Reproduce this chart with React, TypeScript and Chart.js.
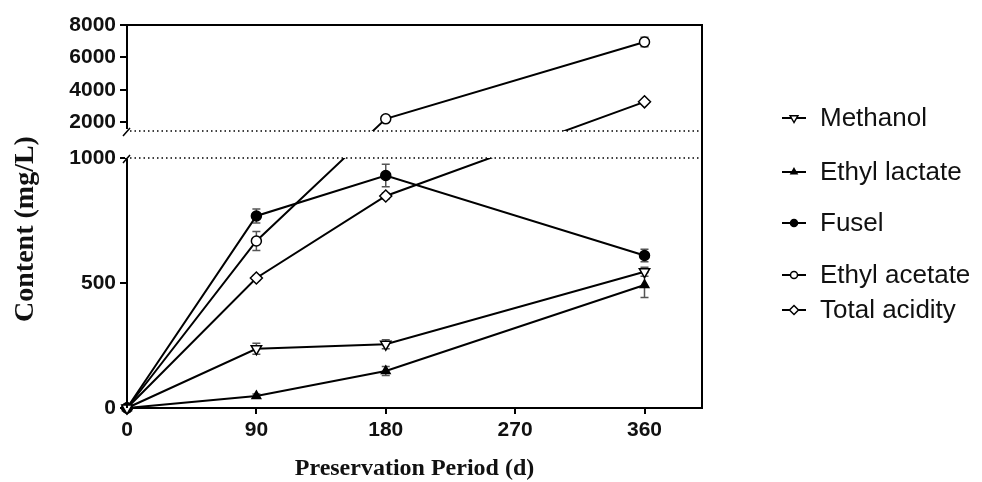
import React, { useEffect, useRef } from 'react';
import { Chart, registerables } from 'chart.js';

Chart.register(...registerables);

// ---- data ----
const days = [0, 90, 180, 360];
const seriesNames = ['Methanol', 'Ethyl lactate', 'Fusel', 'Ethyl acetate', 'Total acidity'];
const methanol = [0, 237, 255, 545];
const methanolErr = [0, 22, 18, 18];
const ethylLactate = [0, 48, 148, 492];
const ethylLactateErr = [0, 8, 18, 50];
const fusel = [0, 768, 930, 610];
const fuselErr = [0, 28, 45, 25];
const ethylAcetate = [0, 668, 2200, 6950];
const ethylAcetateErr = [0, 38, 150, 300];
const totalAcidity = [0, 520, 848, 3250];
const totalAcidityErr = [0, 10, 12, 60];
const xTicks = [0, 90, 180, 270, 360];
const yTicks = [0, 500, 1000, 2000, 4000, 6000, 8000];
const yTickLabels = ['0', '500', '1000', '2000', '4000', '6000', '8000'];
const xTitle = 'Preservation Period (d)';
const yTitle = 'Content (mg/L)';

// ---- broken axis mapping ----
const LOWER_MAX = 1000;
const UPPER_MIN = 1450;
const UPPER_MAX = 8000;
const GAP = 108;
const UPPER_RATIO = 0.0647;
function toV(val: number): number {
  if (val <= LOWER_MAX) return val;
  if (val < UPPER_MIN) return LOWER_MAX + ((val - LOWER_MAX) / (UPPER_MIN - LOWER_MAX)) * GAP;
  return LOWER_MAX + GAP + (val - UPPER_MIN) * UPPER_RATIO;
}

const seriesValues = [methanol, ethylLactate, fusel, ethylAcetate, totalAcidity];
const seriesErrors = [methanolErr, ethylLactateErr, fuselErr, ethylAcetateErr, totalAcidityErr];
const markerStyles = [
  { shape: 'triangle', rotation: 180, filled: false, r: 6 },
  { shape: 'triangle', rotation: 0, filled: true, r: 5 },
  { shape: 'circle', rotation: 0, filled: true, r: 5 },
  { shape: 'circle', rotation: 0, filled: false, r: 5 },
  { shape: 'rectRot', rotation: 0, filled: false, r: 6 },
];

function drawMarker(ctx: CanvasRenderingContext2D, shape: string, x: number, y: number, r: number, filled: boolean, rotation: number) {
  ctx.save();
  ctx.translate(x, y);
  ctx.rotate((rotation * Math.PI) / 180);
  ctx.beginPath();
  if (shape === 'circle') {
    ctx.arc(0, 0, r, 0, Math.PI * 2);
  } else if (shape === 'triangle') {
    ctx.moveTo(0, -r);
    ctx.lineTo(r * 0.866, r * 0.5);
    ctx.lineTo(-r * 0.866, r * 0.5);
    ctx.closePath();
  } else {
    ctx.moveTo(0, -r);
    ctx.lineTo(r, 0);
    ctx.lineTo(0, r);
    ctx.lineTo(-r, 0);
    ctx.closePath();
  }
  ctx.fillStyle = filled ? '#000' : '#fff';
  ctx.fill();
  ctx.lineWidth = 1.5;
  ctx.strokeStyle = '#000';
  ctx.stroke();
  ctx.restore();
}

const overlayPlugin = {
  id: 'overlay',
  beforeDatasetsDraw(chart: any) {
    const ctx = chart.ctx;
    const xs = chart.scales.x;
    const ys = chart.scales.y;
    ctx.save();
    ctx.strokeStyle = '#555';
    ctx.lineWidth = 1.5;
    seriesValues.forEach((vals, i) => {
      vals.forEach((v, j) => {
        const e = seriesErrors[i][j];
        if (!e) return;
        const x = xs.getPixelForValue(days[j]);
        const yt = ys.getPixelForValue(toV(v + e));
        const yb = ys.getPixelForValue(toV(v - e));
        ctx.beginPath();
        ctx.moveTo(x, yt); ctx.lineTo(x, yb);
        ctx.moveTo(x - 4, yt); ctx.lineTo(x + 4, yt);
        ctx.moveTo(x - 4, yb); ctx.lineTo(x + 4, yb);
        ctx.stroke();
      });
    });
    ctx.restore();
  },
  afterDraw(chart: any) {
    const ctx = chart.ctx;
    const ys = chart.scales.y;
    const { left, right, top, bottom } = chart.chartArea;
    const yLow = ys.getPixelForValue(toV(LOWER_MAX));
    const yUp = ys.getPixelForValue(toV(UPPER_MIN));
    ctx.save();
    // mask gap
    ctx.fillStyle = '#fff';
    ctx.fillRect(left - 2, yUp, right - left + 2, yLow - yUp);
    // dotted lines
    ctx.strokeStyle = '#000';
    ctx.lineWidth = 1.5;
    ctx.setLineDash([1.5, 3]);
    ctx.beginPath();
    ctx.moveTo(left + 3, yLow); ctx.lineTo(right, yLow);
    ctx.moveTo(left + 3, yUp); ctx.lineTo(right, yUp);
    ctx.stroke();
    ctx.setLineDash([]);
    // axes and frame
    ctx.lineWidth = 2;
    ctx.beginPath();
    ctx.moveTo(left, bottom); ctx.lineTo(left, yLow + 1);
    ctx.moveTo(left, yUp - 2); ctx.lineTo(left, top);
    ctx.lineTo(right, top); ctx.lineTo(right, bottom);
    ctx.stroke();
    ctx.lineWidth = 1.5;
    ctx.beginPath();
    ctx.moveTo(left - 4, yLow + 5); ctx.lineTo(left + 3, yLow - 3);
    ctx.moveTo(left - 4, yUp + 5); ctx.lineTo(left + 3, yUp - 3);
    ctx.stroke();
    // y title
    ctx.save();
    ctx.translate(26, 229);
    ctx.rotate(-Math.PI / 2);
    ctx.font = 'bold 28px "Liberation Serif", "Times New Roman", serif';
    ctx.fillStyle = '#111';
    ctx.textAlign = 'center';
    ctx.textBaseline = 'middle';
    ctx.fillText(yTitle, 0, 0);
    ctx.restore();
    // legend
    const legendY = [118, 172, 223, 275, 310];
    ctx.font = '26px "Liberation Sans", Arial, sans-serif';
    ctx.textBaseline = 'middle';
    ctx.textAlign = 'left';
    seriesNames.forEach((name, i) => {
      const y = legendY[i];
      ctx.lineWidth = 2;
      ctx.strokeStyle = '#000';
      ctx.beginPath();
      ctx.moveTo(782, y); ctx.lineTo(806, y);
      ctx.stroke();
      const m = markerStyles[i];
      drawMarker(ctx, m.shape, 794, y, m.r - 1.5, m.filled, m.rotation);
      ctx.fillStyle = '#111';
      ctx.fillText(name, 820, y + 1);
    });
    ctx.restore();
  },
};

export default function App() {
  const ref = useRef<HTMLCanvasElement>(null);
  useEffect(() => {
    if (!ref.current) return;
    const datasets = seriesNames.map((name, i) => ({
      label: name,
      data: days.map((d, j) => ({ x: d, y: toV(seriesValues[i][j]) })),
      borderColor: '#000',
      borderWidth: 2,
      pointStyle: markerStyles[i].shape,
      pointRotation: markerStyles[i].rotation,
      pointRadius: markerStyles[i].r,
      pointBackgroundColor: markerStyles[i].filled ? '#000' : '#fff',
      pointBorderColor: '#000',
      pointBorderWidth: 1.5,
      tension: 0,
      clip: false as any,
    }));
    const tickFont = { family: '"Liberation Sans", Arial, sans-serif', size: 21, weight: 'bold' as any };
    const chart = new Chart(ref.current, {
      type: 'line',
      data: { datasets },
      options: {
        responsive: false,
        devicePixelRatio: 1,
        animation: false,
        layout: { padding: { left: 0, top: 25, right: 280, bottom: 0 } },
        plugins: { legend: { display: false }, tooltip: { enabled: false } },
        scales: {
          x: {
            type: 'linear',
            min: 0,
            max: 400,
            afterBuildTicks: (s: any) => { s.ticks = xTicks.map((v) => ({ value: v })); },
            afterFit: (s: any) => { s.height = 74; },
            ticks: { font: tickFont, color: '#111', padding: 4, autoSkip: false, maxRotation: 0 },
            grid: { drawOnChartArea: false, drawTicks: true, tickLength: 6, color: '#000', lineWidth: 2 },
            border: { display: true, color: '#000', width: 2 },
            title: {
              display: true,
              text: xTitle,
              color: '#111',
              font: { family: '"Liberation Serif", "Times New Roman", serif', size: 24, weight: 'bold' as any, lineHeight: 1 },
              padding: { top: 0, bottom: 1 },
            },
          },
          y: {
            type: 'linear',
            min: 0,
            max: toV(UPPER_MAX),
            afterBuildTicks: (s: any) => { s.ticks = yTicks.map((v) => ({ value: toV(v) })); },
            afterFit: (s: any) => { s.width = 127; },
            ticks: {
              font: tickFont,
              color: '#111',
              padding: 4,
              autoSkip: false,
              callback: (_v: any, idx: number) => yTickLabels[idx],
            },
            grid: { drawOnChartArea: false, drawTicks: true, tickLength: 7, color: '#000', lineWidth: 2 },
            border: { display: false },
            title: { display: false },
          },
        },
      },
      plugins: [overlayPlugin],
    });
    return () => chart.destroy();
  }, []);
  return (
    <div style={{ position: 'fixed', left: 0, top: 0, width: 982, height: 482, background: '#fff' }}>
      <canvas ref={ref} width={982} height={482} style={{ display: 'block' }} />
    </div>
  );
}
